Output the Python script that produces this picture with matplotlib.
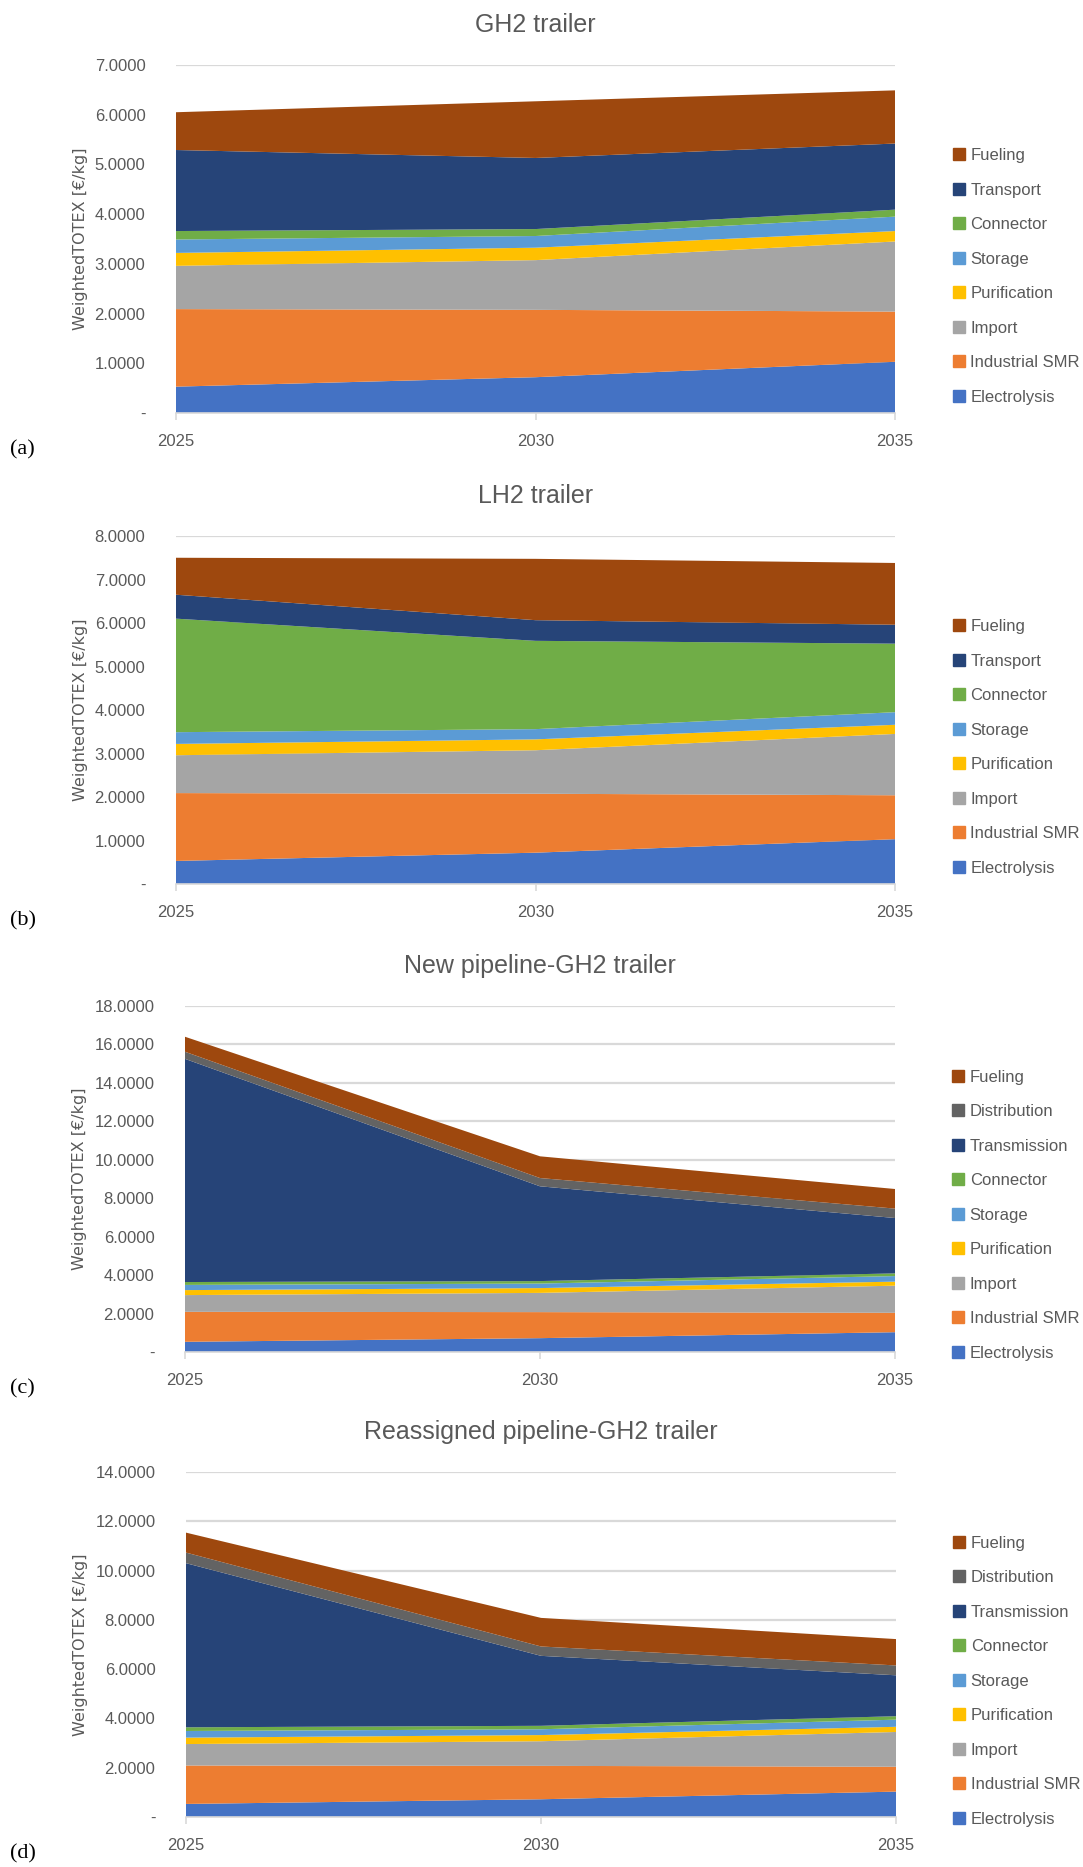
import matplotlib
matplotlib.use("Agg")
import matplotlib.pyplot as plt
from matplotlib import font_manager
from matplotlib.lines import Line2D
import numpy as np

# ---- data (€/kg, weighted TOTEX per cost component) ----
years = [2025, 2030, 2035]

electrolysis = [0.53, 0.72, 1.03]
industrial_smr = [1.56, 1.355, 1.01]
import_h2 = [0.87, 1.00, 1.41]
purification = [0.26, 0.25, 0.21]
storage = [0.27, 0.235, 0.29]

# (a) GH2 trailer
gh2_connector = [0.17, 0.14, 0.14]
gh2_transport = [1.63, 1.43, 1.33]
gh2_fueling = [0.76, 1.14, 1.07]

# (b) LH2 trailer
lh2_connector = [2.61, 2.03, 1.575]
lh2_transport = [0.55, 0.475, 0.435]
lh2_fueling = [0.85, 1.41, 1.42]

# (c) New pipeline-GH2 trailer
newp_connector = [0.15, 0.13, 0.14]
newp_transmission = [11.61, 4.93, 2.88]
newp_distribution = [0.37, 0.43, 0.49]
newp_fueling = [0.78, 1.13, 1.02]

# (d) Reassigned pipeline-GH2 trailer
reas_connector = [0.15, 0.14, 0.14]
reas_transmission = [6.66, 2.84, 1.66]
reas_distribution = [0.43, 0.38, 0.40]
reas_fueling = [0.81, 1.16, 1.07]

titles = ["GH2 trailer", "LH2 trailer", "New pipeline-GH2 trailer",
          "Reassigned pipeline-GH2 trailer"]
panel_tags = ["(a)", "(b)", "(c)", "(d)"]

colors = {
    "Electrolysis": "#4472C4",
    "Industrial SMR": "#ED7D31",
    "Import": "#A5A5A5",
    "Purification": "#FFC000",
    "Storage": "#5B9BD5",
    "Connector": "#70AD47",
    "Transport": "#264478",
    "Transmission": "#264478",
    "Distribution": "#636363",
    "Fueling": "#9E480E",
}

base = [("Electrolysis", electrolysis), ("Industrial SMR", industrial_smr),
        ("Import", import_h2), ("Purification", purification),
        ("Storage", storage)]

panels = [
    base + [("Connector", gh2_connector), ("Transport", gh2_transport),
            ("Fueling", gh2_fueling)],
    base + [("Connector", lh2_connector), ("Transport", lh2_transport),
            ("Fueling", lh2_fueling)],
    base + [("Connector", newp_connector), ("Transmission", newp_transmission),
            ("Distribution", newp_distribution), ("Fueling", newp_fueling)],
    base + [("Connector", reas_connector), ("Transmission", reas_transmission),
            ("Distribution", reas_distribution), ("Fueling", reas_fueling)],
]

y_limits = [(7, 1), (8, 1), (18, 2), (14, 2)]

# ---- fonts ----
available = {f.name for f in font_manager.fontManager.ttflist}
narrow = "Liberation Sans Narrow" if "Liberation Sans Narrow" in available else "Liberation Sans"
serif = "Liberation Serif"

text_grey = "#595959"
grid_grey = "#D9D9D9"

# axes rectangles in pixels: (left, right, top, bottom)
W, H = 1083, 1867
rects = [(176, 895, 65, 413), (176, 895, 536, 884),
         (185, 895, 1006, 1352), (186, 896, 1472, 1817)]
legend_tops = [0.785, 0.785, 0.84, 0.84]

fig = plt.figure(figsize=(W / 100, H / 100), dpi=100)

for i, (series, (ymax, step), (l, r, t, b)) in enumerate(zip(panels, y_limits, rects)):
    ax = fig.add_axes([l / W, 1 - b / H, (r - l) / W, (b - t) / H])
    labels = [name for name, _ in series]
    values = [vals for _, vals in series]
    ax.stackplot(years, *values, colors=[colors[n] for n in labels],
                 linewidth=0)
    ax.set_xlim(years[0], years[-1])
    ax.set_ylim(0, ymax)
    ticks = np.arange(0, ymax + step / 2, step)
    ax.set_yticks(ticks)
    ax.set_yticklabels(["-" if v == 0 else f"{v:.4f}" for v in ticks],
                       fontfamily=narrow, fontsize=12, color=text_grey)
    ax.set_xticks(years)
    ax.set_xticklabels([str(y) for y in years], fontfamily=narrow,
                       fontsize=12, color=text_grey)
    ax.grid(axis="y", color=grid_grey, linewidth=1.6)
    ax.set_axisbelow(True)
    for s in ["top", "right", "left"]:
        ax.spines[s].set_visible(False)
    ax.spines["bottom"].set_color(grid_grey)
    ax.spines["bottom"].set_linewidth(1.2)
    ax.tick_params(axis="y", length=0, pad=22)
    ax.tick_params(axis="x", length=5, color=grid_grey, width=1.2, pad=10)
    ax.set_title(titles[i], fontfamily=narrow, fontsize=18, color=text_grey,
                 pad=24)
    ax.set_ylabel("WeightedTOTEX [€/kg]", fontfamily="DejaVu Sans",
                  fontsize=11.5, color=text_grey, labelpad=5)

    handles = [Line2D([], [], marker="s", linestyle="none", markersize=9,
                      markerfacecolor=colors[n], markeredgecolor=colors[n])
               for n in labels][::-1]
    ax.legend(handles, labels[::-1], loc="upper left",
              bbox_to_anchor=(1.07, legend_tops[i]), frameon=False,
              prop={"family": narrow, "size": 12}, labelcolor=text_grey,
              handlelength=0.6, handletextpad=0.4, borderpad=0,
              labelspacing=1.17)

    fig.text(10 / W, 1 - (b + 37) / H, panel_tags[i], fontfamily=serif,
             fontsize=16, color="black", ha="left", va="center")

fig.savefig("out.png", dpi=100)
